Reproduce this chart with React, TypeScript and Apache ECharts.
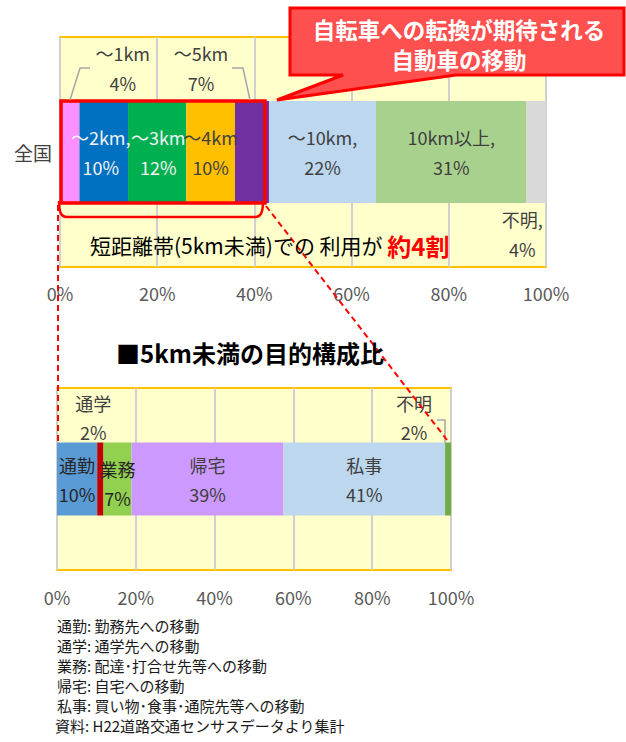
import React, { useEffect, useRef } from "react";
import * as echarts from "echarts";

// ---- data ----
const regionNames = ["全国"];
const topCategories = ["～1km", "～2km", "～3km", "～4km", "～5km", "～10km", "10km以上", "不明"];
const topValues = [4, 10, 12, 10, 7, 22, 31, 4];
const topCommaAfterName = [false, true, false, false, false, true, true, true];

const bottomCategories = ["通勤", "通学", "業務", "帰宅", "私事", "不明"];
const bottomValues = [10.2, 1.6, 7.1, 38.6, 41.0, 1.5];

const axisMax = 100;
const axisStep = 20;

const calloutText = ["自転車への転換が期待される", "自動車の移動"];
const shortRangeText = "短距離帯(5km未満)での 利用が ";
const shortRangeEmph = "約4割";
const bottomTitle = "■5km未満の目的構成比";
const footnotes = [
  "通勤: 勤務先への移動",
  "通学: 通学先への移動",
  "業務: 配達･打合せ先等への移動",
  "帰宅: 自宅への移動",
  "私事: 買い物･食事･通院先等への移動",
  "資料: H22道路交通センサスデータより集計",
];

// ---- styles ----
const FONT = "'Noto Sans CJK JP', 'Noto Sans', sans-serif";
const topColors = ["#FF8FFF", "#0070C0", "#00B050", "#FFC000", "#7030A0", "#BDD7EE", "#A9D18E", "#D9D9D9"];
const bottomColors = ["#5B9BD5", "#C00000", "#92D050", "#CC99FF", "#BDD7EE", "#70AD47"];
const footnoteY = [625, 645, 665, 685, 705, 725];
const footnoteX = [57, 57, 57, 57, 57, 55];

const topLabelStyles: any[] = [
  { position: "top", offset: [53, 2], color: "#404040" },
  { position: "inside", offset: [-3, 0], color: "#F2F2F2" },
  { position: "inside", offset: [1, 0], color: "#F2F2F2" },
  { position: "inside", color: "#404040" },
  { position: "top", offset: [-51, 2], color: "#404040" },
  { position: "inside", color: "#404040" },
  { position: "inside", color: "#404040" },
  { position: "bottom", offset: [-14, -4], color: "#404040" },
];
const bottomLabelStyles: any[] = [
  { position: "inside", color: "#262626" },
  { position: "top", offset: [-7, 9], color: "#404040" },
  { position: "inside", offset: [0, 4], color: "#262626" },
  { position: "inside", color: "#404040" },
  { position: "inside", color: "#404040" },
  { position: "top", offset: [-34, 9], color: "#404040" },
];

echarts.graphic.registerShape(
  "bracket",
  echarts.graphic.extendPath("M0,0 C0,11 2,16 8,16 L196,16 C202,16 204,11 204,0", {})
);

export default function App() {
  const ref = useRef<HTMLDivElement>(null);

  useEffect(() => {
    if (!ref.current) return;
    const chart = echarts.init(ref.current, undefined, { renderer: "svg" });

    const valueAxis = (gridIndex: number, margin: number) => ({
      type: "value",
      gridIndex,
      min: 0,
      max: axisMax,
      interval: axisStep,
      axisLine: { show: false },
      axisTick: { show: false },
      axisLabel: {
        formatter: "{value}%",
        color: "#595959",
        fontSize: 18,
        fontFamily: FONT,
        margin,
      },
      splitLine: { show: true, lineStyle: { color: "#D0D0D0", width: 2 } },
    });

    const topSeries = topCategories.map((name, i) => ({
      type: "bar",
      name,
      stack: "top",
      xAxisIndex: 0,
      yAxisIndex: 0,
      barWidth: 102,
      data: [topValues[i]],
      itemStyle: { color: topColors[i] },
      label: {
        show: true,
        fontSize: 18,
        lineHeight: 30,
        fontFamily: FONT,
        align: "center",
        ...topLabelStyles[i],
        formatter: (p: any) =>
          `${name}${topCommaAfterName[i] ? "," : ""}\n${Math.round(p.value)}%`,
      },
    }));

    const bottomSeries = bottomCategories.map((name, i) => ({
      type: "bar",
      name: name + " ",
      stack: "bottom",
      xAxisIndex: 1,
      yAxisIndex: 1,
      barWidth: 73,
      data: [bottomValues[i]],
      itemStyle: { color: bottomColors[i] },
      label: {
        show: true,
        fontSize: 18,
        lineHeight: 29,
        fontFamily: FONT,
        align: "center",
        ...bottomLabelStyles[i],
        formatter: (p: any) => `${name}\n${Math.round(p.value)}%`,
      },
    }));

    const red = "#FF0000";
    const gray = "#A6A6A6";

    const footnoteTexts = footnotes.map((t, i) => ({
      type: "text",
      z: 100,
      x: footnoteX[i],
      y: footnoteY[i],
      style: {
        text: t,
        font: `15px ${FONT}`,
        fill: "#1A1A1A",
        verticalAlign: "middle",
      },
    }));

    chart.setOption({
      animation: false,
      textStyle: { fontFamily: FONT },
      grid: [
        {
          left: 60,
          top: 37,
          width: 486,
          height: 230,
          show: true,
          backgroundColor: "#FFFFCC",
          borderColor: "#FFC000",
          borderWidth: 2,
        },
        {
          left: 57,
          top: 388,
          width: 394,
          height: 182,
          show: true,
          backgroundColor: "#FFFFCC",
          borderColor: "#FFC000",
          borderWidth: 2,
        },
      ],
      xAxis: [valueAxis(0, 17), valueAxis(1, 18)],
      yAxis: [
        {
          type: "category",
          gridIndex: 0,
          data: regionNames,
          axisLine: { show: false },
          axisTick: { show: false },
          axisLabel: { color: "#404040", fontSize: 19, fontFamily: FONT, margin: 8 },
        },
        {
          type: "category",
          gridIndex: 1,
          data: [""],
          axisLine: { show: false },
          axisTick: { show: false },
          axisLabel: { show: false },
        },
      ],
      series: [...topSeries, ...bottomSeries],
      graphic: [
        // red frame around < 5km segments
        {
          type: "rect",
          z: 100,
          shape: { x: 61, y: 101, width: 204, height: 102 },
          style: { fill: "none", stroke: red, lineWidth: 3.5 },
        },
        {
          type: "bracket",
          z: 100,
          x: 59,
          y: 201,
          style: { fill: "none", stroke: red, lineWidth: 2.5 },
        },
        // callout
        {
          type: "polygon",
          z: 100,
          shape: {
            points: [
              [290, 8],
              [624, 8],
              [624, 75],
              [456, 75],
              [277, 100],
              [343, 75],
              [290, 75],
            ],
          },
          style: { fill: "#FF5050", stroke: red, lineWidth: 3, lineJoin: "miter" },
        },
        {
          type: "text",
          z: 101,
          x: 459,
          y: 29,
          style: {
            text: calloutText[0],
            fill: "#FFFFFF",
            font: `bold 22.5px ${FONT}`,
            align: "center",
            verticalAlign: "middle",
          },
        },
        {
          type: "text",
          z: 101,
          x: 459,
          y: 59,
          style: {
            text: calloutText[1],
            fill: "#FFFFFF",
            font: `bold 22.5px ${FONT}`,
            align: "center",
            verticalAlign: "middle",
          },
        },
        // leader lines
        {
          type: "polyline",
          z: 100,
          shape: { points: [[70, 100], [80, 68], [90, 68]] },
          style: { fill: "none", stroke: gray, lineWidth: 1.5 },
        },
        {
          type: "polyline",
          z: 100,
          shape: { points: [[232, 68], [243, 68], [250, 100]] },
          style: { fill: "none", stroke: gray, lineWidth: 1.5 },
        },
        {
          type: "polyline",
          z: 100,
          shape: { points: [[437, 420], [445, 420], [445, 443]] },
          style: { fill: "none", stroke: gray, lineWidth: 1.5 },
        },
        // dashed connectors
        {
          type: "line",
          z: 100,
          shape: { x1: 58, y1: 205, x2: 58, y2: 443 },
          style: { stroke: red, lineWidth: 2, lineDash: [6, 4] },
        },
        {
          type: "line",
          z: 100,
          shape: { x1: 266, y1: 206, x2: 447, y2: 440 },
          style: { stroke: red, lineWidth: 2, lineDash: [6, 4] },
        },
        // short range note
        {
          type: "text",
          z: 100,
          x: 90,
          y: 245,
          style: {
            text: `{a|${shortRangeText}}{b|${shortRangeEmph}}`,
            verticalAlign: "middle",
            rich: {
              a: { fontSize: 21, fontFamily: FONT, fill: "#000000", color: "#000000" },
              b: { fontSize: 24, fontWeight: "bold", fontFamily: FONT, fill: red, color: red },
            },
          },
        },
        // bottom title
        {
          type: "text",
          z: 100,
          x: 250,
          y: 352,
          style: {
            text: bottomTitle,
            font: `bold 24px ${FONT}`,
            fill: "#000000",
            align: "center",
            verticalAlign: "middle",
          },
        },
        ...footnoteTexts,
      ],
    });

    return () => chart.dispose();
  }, []);

  return (
    <div
      ref={ref}
      style={{ position: "absolute", left: 0, top: 0, width: 626, height: 742, background: "#FFFFFF" }}
    />
  );
}
